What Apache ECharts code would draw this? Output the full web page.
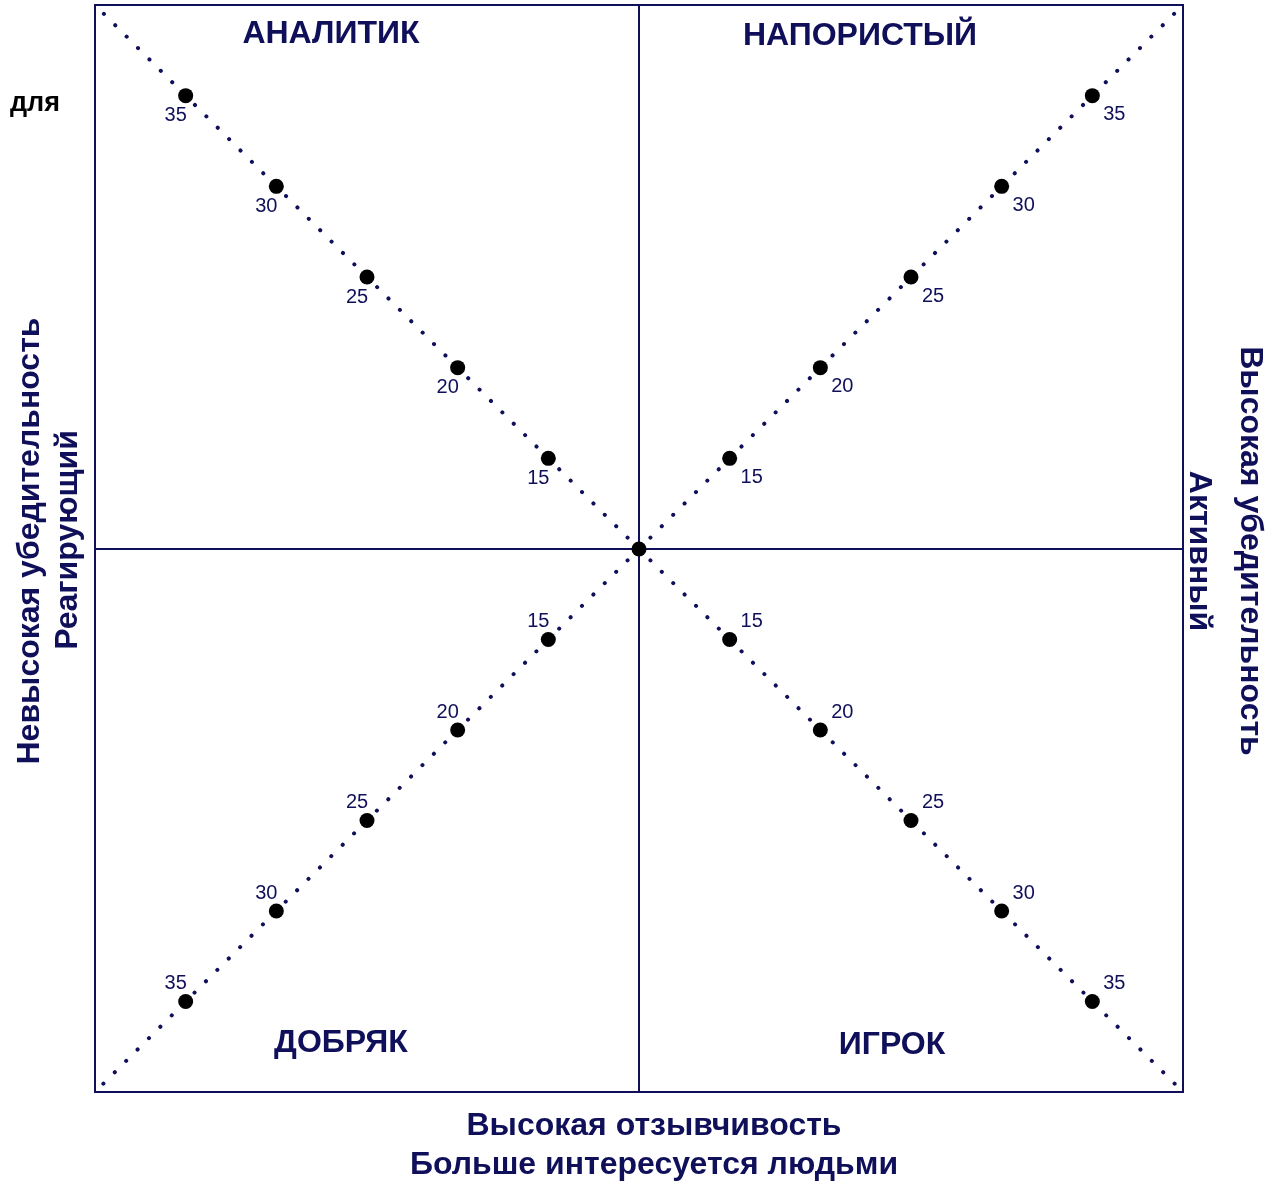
<!DOCTYPE html>
<html>
<head>
<meta charset="utf-8">
<script src="https://cdn.jsdelivr.net/npm/echarts@6/dist/echarts.min.js"></script>
<style>
  html, body { margin: 0; padding: 0; background: #fff; }
  #chart { width: 1276px; height: 1182px; }
</style>
</head>
<body>
<div id="chart"></div>
<script>
// scale of each quadrant: 10 at the centre, 40 at the outer corner
const axisMin = 10
const axisMax = 40
const scores = [15, 20, 25, 30, 35]
const quadrantNames = ['АНАЛИТИК', 'НАПОРИСТЫЙ', 'ДОБРЯК', 'ИГРОК']
const bottomTitle = ['Высокая отзывчивость', 'Больше интересуется людьми']
const leftTitle = ['Невысокая убедительность', 'Реагирующий']
const rightTitle = ['Высокая убедительность', 'Активный']

const navy = '#0f0f5a'
const font = 'Arial, "Liberation Sans", sans-serif'

// top-left, top-right, bottom-left, bottom-right
const quads = [
  { grid: { left: 95, top: 5, width: 544, height: 544 }, xInv: true, yInv: false, off: [-10, 20] },
  { grid: { left: 639, top: 5, width: 544, height: 544 }, xInv: false, yInv: false, off: [22, 19] },
  { grid: { left: 95, top: 549, width: 544, height: 543 }, xInv: true, yInv: true, off: [-10, -18] },
  { grid: { left: 639, top: 549, width: 544, height: 543 }, xInv: false, yInv: true, off: [22, -18] },
]

const hiddenAxis = (i, inverse) => ({
  type: 'value',
  gridIndex: i,
  min: axisMin,
  max: axisMax,
  inverse: inverse,
  axisLine: { show: false },
  axisTick: { show: false },
  axisLabel: { show: false },
  splitLine: { show: false },
})

const series = []
quads.forEach((q, i) => {
  series.push({
    type: 'line',
    xAxisIndex: i,
    yAxisIndex: i,
    data: [[axisMin, axisMin], [axisMax, axisMax]],
    symbol: 'none',
    silent: true,
    lineStyle: { color: navy, width: 4, type: [0.1, 16], cap: 'round' },
    z: 2,
  })
  series.push({
    type: 'scatter',
    xAxisIndex: i,
    yAxisIndex: i,
    data: scores.map((s) => [s, s]),
    symbolSize: 15,
    itemStyle: { color: '#000', opacity: 1 },
    label: {
      show: true,
      position: 'inside',
      offset: q.off,
      formatter: (p) => p.value[0],
      color: navy,
      fontSize: 20,
      fontFamily: font,
    },
    z: 3,
  })
})
// the dot at the crossing
series.push({
  type: 'scatter',
  xAxisIndex: 0,
  yAxisIndex: 0,
  data: [[axisMin, axisMin]],
  symbolSize: 15,
  itemStyle: { color: '#000', opacity: 1 },
  z: 4,
})

const text = (x, y, str, size, rot, color) => ({
  type: 'text',
  x: x,
  y: y,
  rotation: rot || 0,
  style: {
    text: str,
    fill: color || navy,
    font: 'bold ' + size + 'px ' + font,
    textAlign: 'center',
    textVerticalAlign: 'middle',
  },
  z: 10,
})

const chart = echarts.init(document.getElementById('chart'))
chart.setOption({
  animation: false,
  backgroundColor: '#fff',
  grid: quads.map((q) => Object.assign({
    show: true,
    borderColor: navy,
    borderWidth: 2,
    backgroundColor: 'transparent',
    containLabel: false,
  }, q.grid)),
  xAxis: quads.map((q, i) => hiddenAxis(i, q.xInv)),
  yAxis: quads.map((q, i) => hiddenAxis(i, q.yInv)),
  series: series,
  graphic: [
    text(331, 34, quadrantNames[0], 32),
    text(860, 36, quadrantNames[1], 32),
    text(341, 1043, quadrantNames[2], 32),
    text(892, 1045, quadrantNames[3], 32),
    text(654, 1126, bottomTitle[0], 32),
    text(654, 1165, bottomTitle[1], 32),
    text(30, 541, leftTitle[0], 32, Math.PI / 2),
    text(68, 540, leftTitle[1], 32, Math.PI / 2),
    text(1250, 551, rightTitle[0], 32, -Math.PI / 2),
    text(1199, 551, rightTitle[1], 32, -Math.PI / 2),
    text(35, 104, 'для', 27, 0, '#000'),
  ],
})
</script>
</body>
</html>
